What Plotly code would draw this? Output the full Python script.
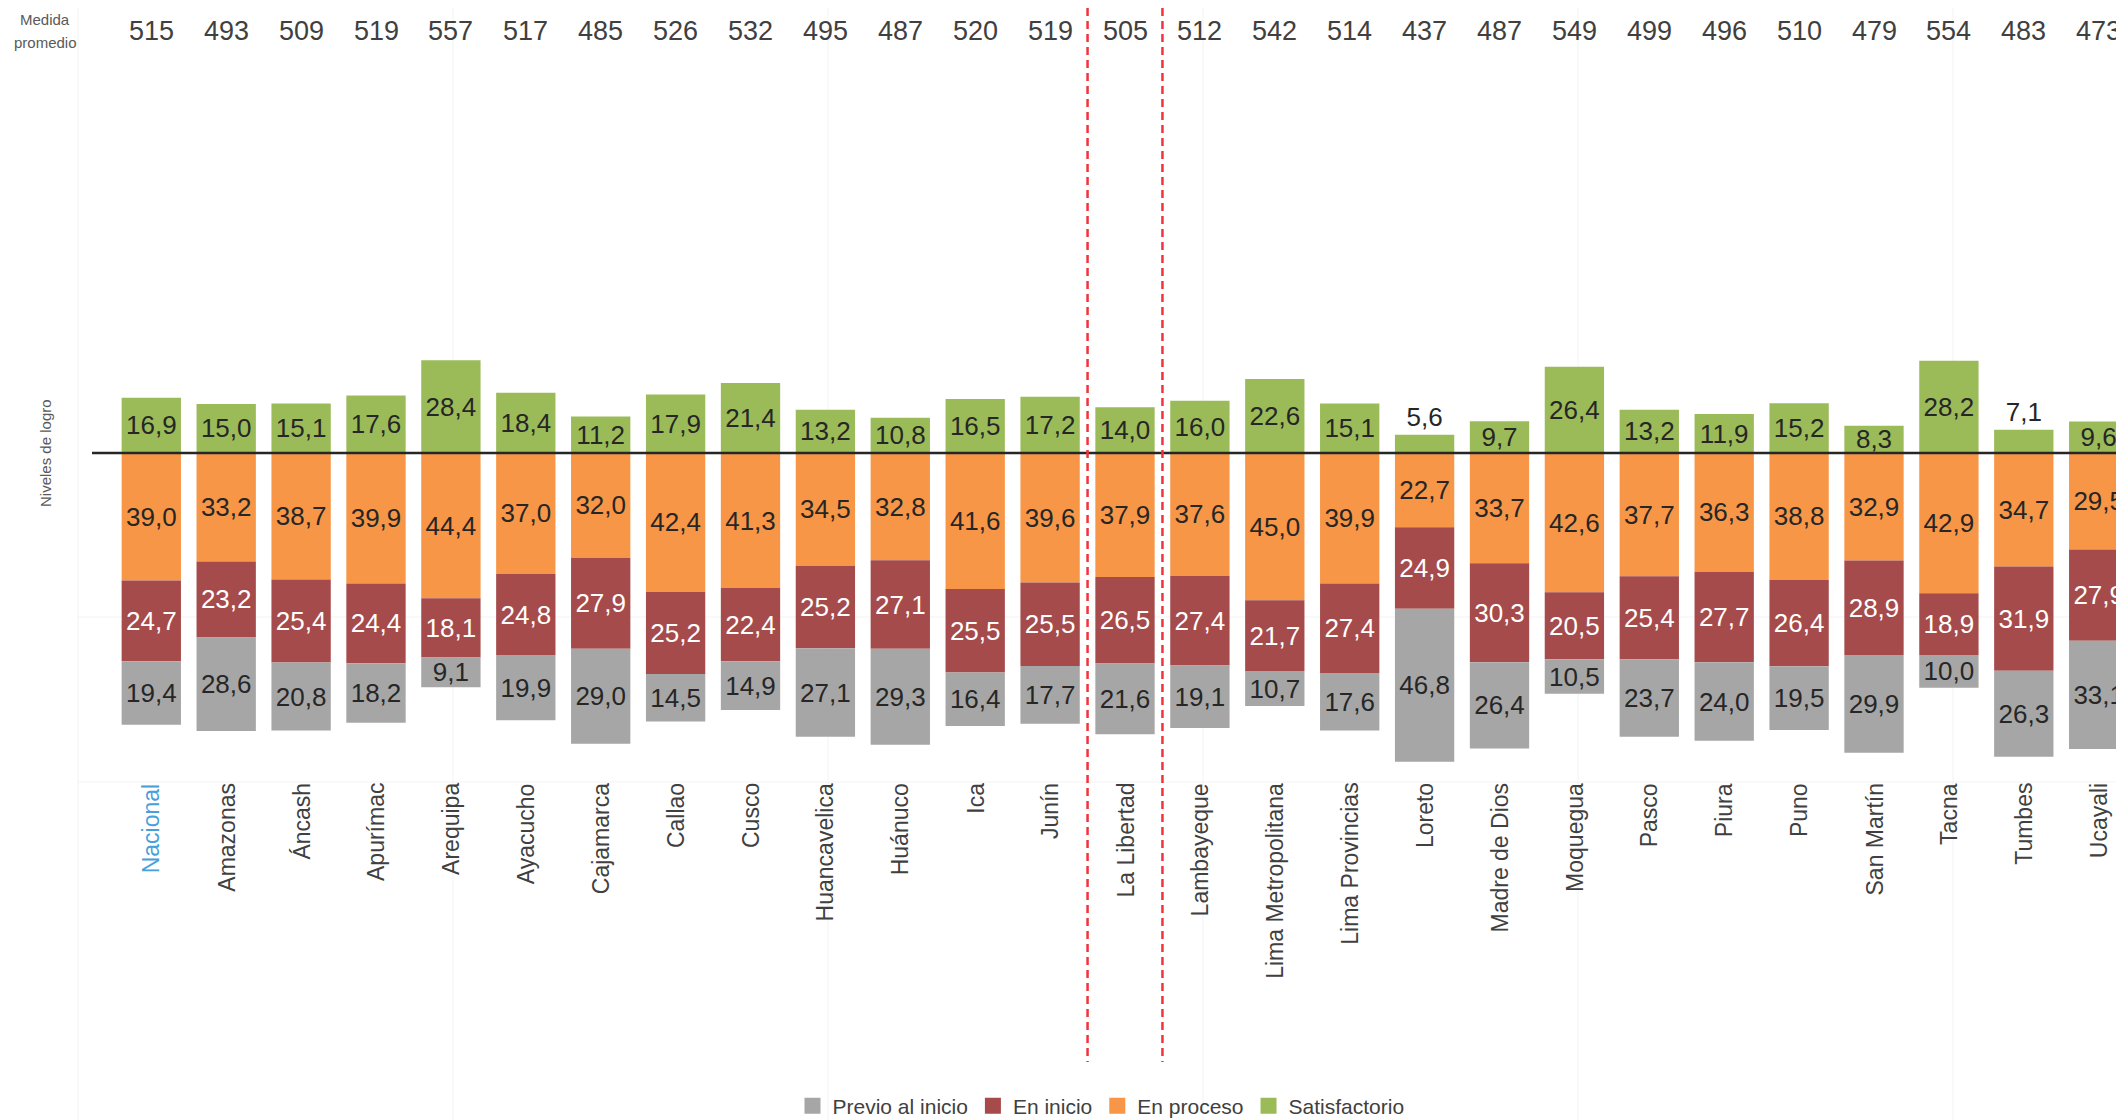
import plotly.graph_objects as go

# ---------------- data ----------------
categories = ["Nacional", "Amazonas", "Áncash", "Apurímac", "Arequipa", "Ayacucho",
              "Cajamarca", "Callao", "Cusco", "Huancavelica", "Huánuco", "Ica", "Junín",
              "La Libertad", "Lambayeque", "Lima Metropolitana", "Lima Provincias",
              "Loreto", "Madre de Dios", "Moquegua", "Pasco", "Piura", "Puno",
              "San Martín", "Tacna", "Tumbes", "Ucayali"]
medida_promedio = [515, 493, 509, 519, 557, 517, 485, 526, 532, 495, 487, 520, 519,
                   505, 512, 542, 514, 437, 487, 549, 499, 496, 510, 479, 554, 483, 473]
satisfactorio = [16.9, 15.0, 15.1, 17.6, 28.4, 18.4, 11.2, 17.9, 21.4, 13.2, 10.8, 16.5, 17.2,
                 14.0, 16.0, 22.6, 15.1, 5.6, 9.7, 26.4, 13.2, 11.9, 15.2, 8.3, 28.2, 7.1, 9.6]
en_proceso = [39.0, 33.2, 38.7, 39.9, 44.4, 37.0, 32.0, 42.4, 41.3, 34.5, 32.8, 41.6, 39.6,
              37.9, 37.6, 45.0, 39.9, 22.7, 33.7, 42.6, 37.7, 36.3, 38.8, 32.9, 42.9, 34.7, 29.5]
en_inicio = [24.7, 23.2, 25.4, 24.4, 18.1, 24.8, 27.9, 25.2, 22.4, 25.2, 27.1, 25.5, 25.5,
             26.5, 27.4, 21.7, 27.4, 24.9, 30.3, 20.5, 25.4, 27.7, 26.4, 28.9, 18.9, 31.9, 27.9]
previo_al_inicio = [19.4, 28.6, 20.8, 18.2, 9.1, 19.9, 29.0, 14.5, 14.9, 27.1, 29.3, 16.4, 17.7,
                    21.6, 19.1, 10.7, 17.6, 46.8, 26.4, 10.5, 23.7, 24.0, 19.5, 29.9, 10.0, 26.3, 33.1]
legend_order = ["Previo al inicio", "En inicio", "En proceso", "Satisfactorio"]
highlight_category = "Nacional"
separated_category = "La Libertad"

# ---------------- style ----------------
W, H = 2124, 1120
OFF = 8                      # default page body margin
FW, FH = W - OFF, H - OFF    # figure size so it fits the window
COLORS = {"Previo al inicio": "#a6a6a6", "En inicio": "#a64b4b",
          "En proceso": "#f79646", "Satisfactorio": "#9bbb59"}
FONT = "Liberation Sans, Arial, sans-serif"
DARK = "#262626"
BASE_PX = 453.0 - OFF        # zero line row (figure pixels)
PX_PER_UNIT = 3.27           # pixels per percentage point
CAT_FIRST_PX = 151.3 - OFF   # centre of first category (figure pixels)
CAT_STEP_PX = 74.9           # pixels between categories

x_range = [-CAT_FIRST_PX / CAT_STEP_PX, (FW - CAT_FIRST_PX) / CAT_STEP_PX]
y_range = [-(FH - BASE_PX) / PX_PER_UNIT, BASE_PX / PX_PER_UNIT]


def fmt(v):
    return f"{v:.1f}".replace(".", ",")


def py(pix):  # page pixel row -> paper fraction
    return 1 - (pix - OFF) / FH


def px(pix):  # page pixel column -> paper fraction
    return (pix - OFF) / FW


fig = go.Figure()

series = [
    ("Satisfactorio", satisfactorio, 1, DARK),
    ("En proceso", en_proceso, -1, DARK),
    ("En inicio", en_inicio, -1, "white"),
    ("Previo al inicio", previo_al_inicio, -1, DARK),
]
for name, vals, sign, tcol in series:
    fig.add_trace(go.Bar(
        x=categories, y=[sign * v for v in vals], name=name,
        marker=dict(color=COLORS[name], line=dict(width=0)),
        text=[fmt(v) for v in vals],
        textposition=[("outside" if (sign > 0 and v < 8) else "inside") for v in vals],
        insidetextanchor="middle", textangle=0, constraintext="none",
        textfont=dict(family=FONT, size=26, color=tcol),
        outsidetextfont=dict(family=FONT, size=26, color=DARK),
        cliponaxis=False, showlegend=False, hoverinfo="skip",
    ))

# legend-only entries (square swatches)
for name in legend_order:
    fig.add_trace(go.Scatter(
        x=[None], y=[None], mode="markers", name=name,
        marker=dict(symbol="square", size=22, color=COLORS[name]),
        showlegend=True, hoverinfo="skip",
    ))

annotations = []
# top row: average measure
for cat, m in zip(categories, medida_promedio):
    annotations.append(dict(x=cat, xref="x", y=py(31), yref="paper", text=str(m),
                            showarrow=False, xanchor="center", yanchor="middle",
                            font=dict(family=FONT, size=27, color="#404040")))
# category labels (rotated)
for cat in categories:
    col = "#47a0d9" if cat == highlight_category else "#404040"
    annotations.append(dict(x=cat, xref="x", y=py(781), yref="paper", text=cat,
                            showarrow=False, textangle=-90, xanchor="center", yanchor="top",
                            font=dict(family=FONT, size=23, color=col)))
# left side labels
annotations += [
    dict(x=px(45), xref="paper", y=py(19), yref="paper", text="Medida", showarrow=False,
         xanchor="center", yanchor="middle", font=dict(family=FONT, size=15, color="#595959")),
    dict(x=px(45), xref="paper", y=py(42), yref="paper", text="promedio", showarrow=False,
         xanchor="center", yanchor="middle", font=dict(family=FONT, size=15, color="#595959")),
    dict(x=px(45), xref="paper", y=py(453), yref="paper", text="Niveles de logro",
         showarrow=False, textangle=-90, xanchor="center", yanchor="middle",
         font=dict(family=FONT, size=15, color="#595959")),
]

shapes = []
# faint background grid
for gx in [78, 453, 828, 1203, 1578, 1953]:
    shapes.append(dict(type="line", xref="paper", yref="paper", x0=px(gx), x1=px(gx),
                       y0=0, y1=1, line=dict(color="#f3f3f3", width=1), layer="below"))
for gy in [617, 782]:
    shapes.append(dict(type="line", xref="paper", yref="paper", x0=px(78), x1=1,
                       y0=py(gy), y1=py(gy), line=dict(color="#f3f3f3", width=1), layer="below"))
# zero line
shapes.append(dict(type="line", xref="x", yref="y", x0=(92 - OFF - CAT_FIRST_PX) / CAT_STEP_PX,
                   x1=x_range[1], y0=0, y1=0, line=dict(color="#262626", width=2.5),
                   layer="above"))
# red dashed separators around La Libertad
idx = categories.index(separated_category)
for xv in (idx - 0.5, idx + 0.5):
    shapes.append(dict(type="line", xref="x", yref="paper", x0=xv, x1=xv,
                       y0=1, y1=py(1062), line=dict(color="#f2333a", width=2.5, dash="8px,5px"),
                       layer="above"))

fig.update_layout(
    width=FW, height=FH,
    margin=dict(l=0, r=0, t=0, b=0, autoexpand=False),
    paper_bgcolor="white", plot_bgcolor="white",
    barmode="relative", bargap=0.208,
    xaxis=dict(range=x_range, visible=False, showgrid=False, zeroline=False,
               categoryorder="array", categoryarray=categories),
    yaxis=dict(range=y_range, visible=False, showgrid=False, zeroline=False),
    uniformtext=dict(minsize=26, mode="show"),
    showlegend=True,
    legend=dict(orientation="h", x=px(1101), xanchor="center", y=py(1106), yanchor="middle",
                font=dict(family=FONT, size=21, color="#404040"),
                bgcolor="rgba(0,0,0,0)", itemclick=False, itemdoubleclick=False),
    annotations=annotations, shapes=shapes,
    font=dict(family=FONT),
)

fig.write_html("out.html")
